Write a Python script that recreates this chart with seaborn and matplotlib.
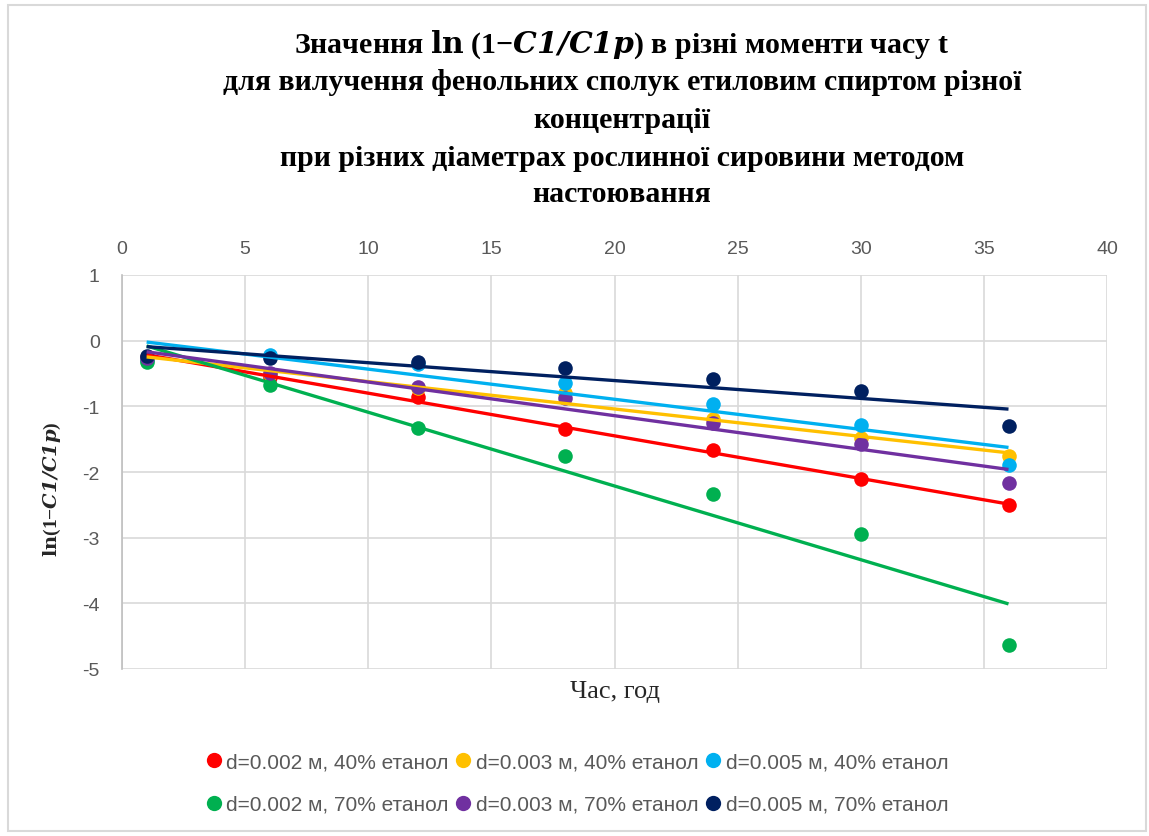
import numpy as np
import pandas as pd
import matplotlib
matplotlib.use("Agg")
import matplotlib.pyplot as plt
import seaborn as sns
from matplotlib.lines import Line2D
from matplotlib.patches import Rectangle

# Time points, h
t_hours = [1, 6, 12, 18, 24, 30, 36]

# ln(1 - C1/C1p) for each particle diameter / ethanol concentration
d002_e40 = [-0.25, -0.55, -0.86, -1.35, -1.67, -2.11, -2.51]
d003_e40 = [-0.28, -0.50, -0.72, -0.80, -1.20, -1.48, -1.76]
d005_e40 = [-0.30, -0.22, -0.35, -0.64, -0.96, -1.29, -1.89]
d002_e70 = [-0.33, -0.68, -1.33, -1.76, -2.34, -2.95, -4.64]
d003_e70 = [-0.27, -0.49, -0.70, -0.87, -1.25, -1.58, -2.17]
d005_e70 = [-0.23, -0.27, -0.33, -0.42, -0.58, -0.77, -1.30]

series_labels = [
    "d=0.002 м, 40% етанол",
    "d=0.003 м, 40% етанол",
    "d=0.005 м, 40% етанол",
    "d=0.002 м, 70% етанол",
    "d=0.003 м, 70% етанол",
    "d=0.005 м, 70% етанол",
]
series_values = [d002_e40, d003_e40, d005_e40, d002_e70, d003_e70, d005_e70]
series_colors = ["#FF0000", "#FFC000", "#00B0F0", "#00B050", "#7030A0", "#002060"]

x_ticks = [0, 5, 10, 15, 20, 25, 30, 35, 40]
y_ticks = [1, 0, -1, -2, -3, -4, -5]

df = pd.DataFrame(
    [(lab, t, v) for lab, vals in zip(series_labels, series_values) for t, v in zip(t_hours, vals)],
    columns=["series", "t", "value"],
)

sns.set_theme(style="white")
plt.rcParams["font.family"] = ["Liberation Sans", "DejaVu Sans"]
plt.rcParams["mathtext.fontset"] = "dejavuserif"

fig = plt.figure(figsize=(11.49, 8.37), dpi=100)
ax = fig.add_axes([122 / 1149, 1 - 670 / 837, (1107 - 122) / 1149, (670 - 276) / 837])

for lab, col in zip(series_labels, series_colors):
    sub = df[df["series"] == lab]
    sns.regplot(
        data=sub, x="t", y="value", ax=ax, ci=None, truncate=True,
        color=col,
        scatter_kws=dict(s=110, alpha=1, linewidths=0, zorder=3),
        line_kws=dict(lw=2.4, zorder=4, solid_capstyle="butt"),
    )

ax.set_xlim(0, 40)
ax.set_ylim(-5, 1)
ax.set_xticks(x_ticks)
ax.set_yticks(y_ticks)
ax.xaxis.tick_top()
ax.tick_params(axis="both", length=0, labelsize=14, labelcolor="#595959")
ax.tick_params(axis="x", pad=13)
ax.tick_params(axis="y", pad=16)
ax.set_yticklabels([str(v) for v in y_ticks])
ax.grid(True, color="#D9D9D9", lw=1.2)
for side in ["top", "right", "bottom"]:
    ax.spines[side].set_visible(False)
ax.spines["left"].set_color("#BFBFBF")
ax.spines["left"].set_linewidth(1.2)

ax.set_xlabel("")
ax.set_ylabel(r"$\mathbf{ln}$(1−$\mathbfit{C1/C1p}$)", fontsize=14, fontweight="bold",
              family=["Liberation Serif"])
ax.yaxis.set_label_coords(-0.06, 0.46)
fig.text(0.5 * (122 + 1107) / 1149, 1 - 692 / 837, "Час, год", ha="center", va="center",
         fontsize=19, family=["Liberation Serif"], color="#262626")

title_lines = [
    r"Значення $\mathbf{ln}$ (1−$\mathbfit{C1/C1p}$) в різні моменти часу t",
    "для вилучення фенольних сполук етиловим спиртом різної",
    "концентрації",
    "при різних діаметрах рослинної сировини методом",
    "настоювання",
]
title_y = [45, 83, 120, 158, 194]
for line, yy in zip(title_lines, title_y):
    fig.text(622 / 1149, 1 - yy / 837, line, ha="center", va="center", fontsize=21.5,
             fontweight="bold", family=["Liberation Serif"], color="#000000")

# Legend: row-major order across 3 columns
handles = [Line2D([], [], ls="", marker="o", ms=11, color=c, markeredgewidth=0) for c in series_colors]
order = [0, 3, 1, 4, 2, 5]
fig.legend([handles[i] for i in order], [series_labels[i] for i in order],
           loc="center", bbox_to_anchor=(0.503, 1 - 784 / 837), ncol=3, frameon=False,
           fontsize=15, labelcolor="#595959", handlelength=0.6, handletextpad=0.3,
           columnspacing=0.4, labelspacing=1.15)

fig.patches.append(Rectangle((8 / 1149, 1 - 832 / 837), (1146 - 8) / 1149, (832 - 6) / 837,
                             transform=fig.transFigure, fill=False, ec="#D9D9D9", lw=1.5))

fig.savefig("out.png", dpi=100)
